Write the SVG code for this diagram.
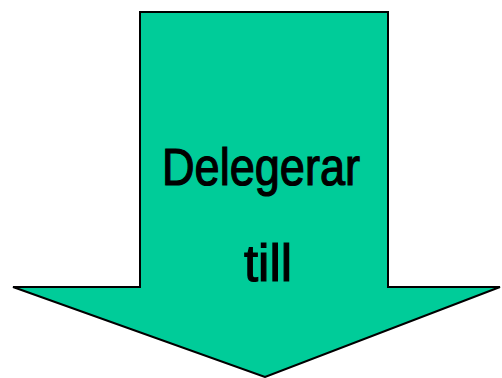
<svg xmlns="http://www.w3.org/2000/svg" width="502" height="378" viewBox="0 0 502 378">
<style>
.arrow{fill:#00CC99;stroke:#000;stroke-width:2;stroke-linejoin:miter}
.lbl{font-family:"Liberation Sans Narrow","Liberation Sans",Arial,sans-serif;font-size:51px;fill:#000;stroke:#000;stroke-width:1.2}
</style>
<rect width="502" height="378" fill="#fff"/>
<g id="arrow">
<polygon class="arrow" points="140,12 388,12 388,287 500,287 265,377 13,287 140,287"/>
<text class="lbl" x="162" y="185" textLength="198" lengthAdjust="spacingAndGlyphs">Delegerar</text>
<text class="lbl" x="244" y="281" textLength="48" lengthAdjust="spacingAndGlyphs">till</text>
</g>
</svg>
